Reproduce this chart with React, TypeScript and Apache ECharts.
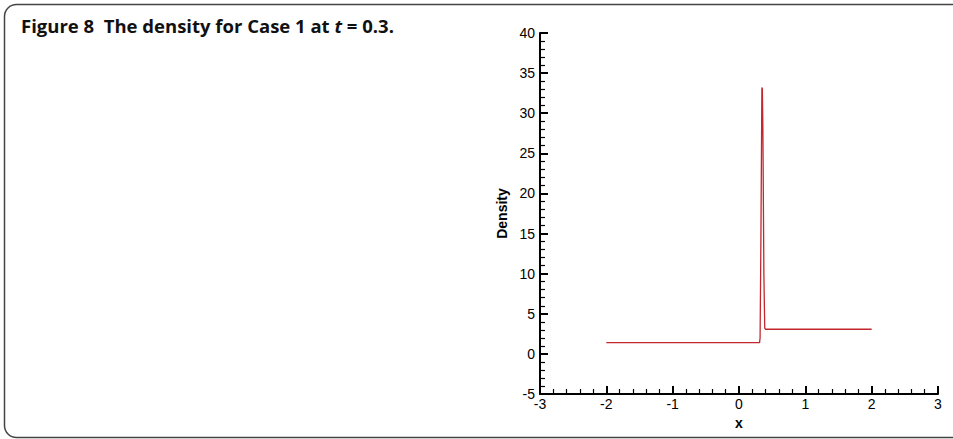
import React, { useEffect, useRef } from "react";
import * as echarts from "echarts";

const xValues = [-2, 0.31, 0.318, 0.33, 0.345, 0.352, 0.36, 0.375, 0.388, 0.4, 2];
const densityValues = [1.4, 1.4, 2.0, 14, 33.2, 33.0, 28, 10, 3.2, 3.07, 3.07];
const xTicks = { min: -3, max: 3, interval: 1 };
const yTicks = { min: -5, max: 40, interval: 5 };
const titleText = "Figure 8  The density for Case 1 at ";
const xName = "x";
const yName = "Density";

export default function App() {
  const ref = useRef<HTMLDivElement>(null);
  useEffect(() => {
    if (!ref.current) return;
    const chart = echarts.init(ref.current, undefined, { renderer: "svg" });
    const data = xValues.map((x, i) => [x, densityValues[i]]);
    const axisFont = { fontFamily: "Liberation Sans, Arial, sans-serif", fontSize: 14, color: "#000" };
    chart.setOption({
      animation: false,
      backgroundColor: "#fff",
      graphic: [
        {
          type: "rect",
          shape: { x: 4.5, y: 4.5, width: 1000, height: 433, r: 12 },
          style: { fill: "none", stroke: "#444", lineWidth: 1.5 },
          silent: true,
        },
        {
          type: "text",
          left: 21,
          top: 16,
          style: {
            text: "{b|" + titleText + "}{i|t}{b| = 0.3.}",
            rich: {
              b: { fontFamily: "Open Sans, Noto Sans, sans-serif", fontWeight: "bold", fontSize: 18.5, fill: "#111" },
              i: { fontFamily: "Open Sans, Noto Sans, sans-serif", fontWeight: "bold", fontStyle: "italic", fontSize: 18.5, fill: "#111" },
            },
          },
        },
      ],
      grid: { left: 540, right: 15, top: 33, bottom: 45, containLabel: false },
      xAxis: {
        type: "value",
        min: xTicks.min,
        max: xTicks.max,
        interval: xTicks.interval,
        name: xName,
        nameLocation: "middle",
        nameGap: 14,
        nameTextStyle: { fontFamily: "Liberation Sans, Arial, sans-serif", fontWeight: "bold", fontSize: 14, color: "#000" },
        axisLine: { show: true, onZero: false, lineStyle: { color: "#000", width: 2 } },
        axisTick: { show: true, inside: true, length: 8, lineStyle: { color: "#000", width: 2 } },
        minorTick: { show: true, splitNumber: 5, length: 5, lineStyle: { color: "#000", width: 1.2 } },
        axisLabel: { ...axisFont, margin: 3 },
        splitLine: { show: false },
      },
      yAxis: {
        type: "value",
        min: yTicks.min,
        max: yTicks.max,
        interval: yTicks.interval,
        name: yName,
        nameLocation: "middle",
        nameGap: 31,
        nameTextStyle: { fontFamily: "Liberation Sans, Arial, sans-serif", fontWeight: "bold", fontSize: 14, color: "#000" },
        axisLine: { show: true, onZero: false, lineStyle: { color: "#000", width: 2 } },
        axisTick: { show: true, inside: true, length: 8, lineStyle: { color: "#000", width: 2 } },
        minorTick: { show: true, splitNumber: 5, length: 5, lineStyle: { color: "#000", width: 1.2 } },
        axisLabel: { ...axisFont, margin: 5 },
        splitLine: { show: false },
      },
      series: [
        {
          type: "line",
          data,
          showSymbol: false,
          symbol: "none",
          lineStyle: { color: "#c1272d", width: 1.3 },
          itemStyle: { color: "#c1272d" },
        },
      ],
    });
    return () => chart.dispose();
  }, []);
  return (
    <div
      ref={ref}
      style={{ position: "fixed", left: 0, top: 0, width: 953, height: 439, background: "#fff" }}
    />
  );
}
